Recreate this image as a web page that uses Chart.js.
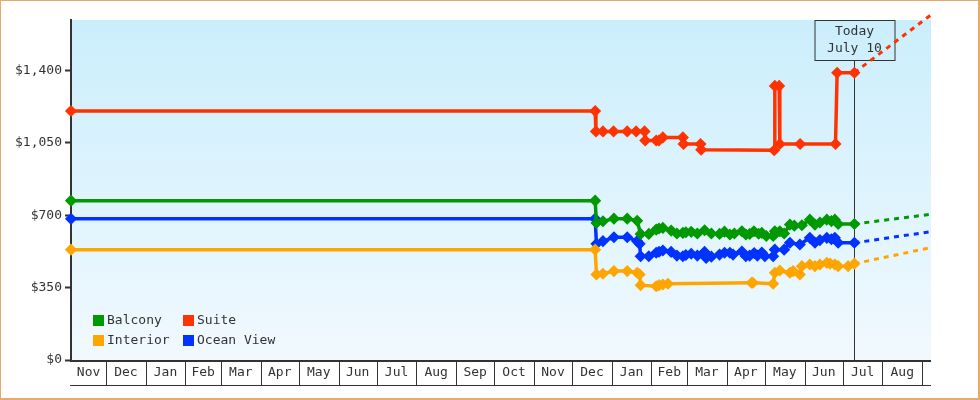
<!DOCTYPE html>
<html><head><meta charset="utf-8">
<script src="https://cdn.jsdelivr.net/npm/chart.js@4/dist/chart.umd.min.js"></script>
<style>html,body{margin:0;padding:0;background:#fff}</style>
</head><body>
<canvas id="c" width="980" height="400"></canvas>
<script>
// ---- data (x = days since Nov 1, 2021; y = price in $) ----
const monthNames = ['Jan','Feb','Mar','Apr','May','Jun','Jul','Aug','Sep','Oct','Nov','Dec'];
const yTickValues = [0, 350, 700, 1050, 1400];
const seriesNames = ['Balcony', 'Suite', 'Interior', 'Ocean View'];
const seriesColors = ['#009900', '#ff3300', '#ffa500', '#0033ff'];
const todayDay = 616;
const todayText = ['Today', 'July 10'];
const xMinDay = 2.5;
const projEndDay = 676;

const balconyDays   = [2.5, 413, 414, 419.1, 427.7, 438.1, 445.9, 448.6, 455, 460.8, 463, 466, 472.5, 477, 481.7, 484, 488.2, 493, 498.7, 504, 510.4, 514.3, 518.5, 522, 527.9, 531, 534, 537.3, 541, 543.5, 547, 552.4, 553.7, 557.6, 561, 565.5, 569, 574.9, 581.1, 585.1, 589, 594.4, 598, 600.7, 603.3, 616];
const balconyValues = [771, 771, 663, 671, 684, 684, 674, 610, 610, 631, 636, 639, 626, 612, 615, 618, 620, 612, 628, 612, 610, 621, 607, 612, 623, 607, 610, 623, 611, 615, 600, 600, 623, 623, 612, 655, 650, 652, 679, 655, 665, 679, 672, 679, 658, 658];

const suiteDays   = [2.5, 413, 413.6, 419.1, 427.4, 438.1, 445.1, 451.7, 452.2, 460.8, 462.9, 466, 481.7, 482.2, 495.5, 496, 553.2, 553.7, 557.1, 557.6, 573.5, 601.2, 602.5, 616];
const suiteValues = [1205, 1205, 1106, 1106, 1106, 1106, 1106, 1106, 1062, 1062, 1062, 1077, 1077, 1045, 1045, 1017, 1015, 1326, 1326, 1045, 1045, 1045, 1390, 1390];

const interiorDays   = [2.5, 413, 414, 419.1, 427.7, 438.1, 445.9, 447.8, 448.6, 460.8, 463, 466, 470, 535.5, 536.5, 552.4, 553.7, 557.6, 565.5, 568, 573.3, 574.9, 581.1, 585.1, 589, 594.4, 597, 600.7, 603.3, 611.1, 616];
const interiorValues = [534, 534, 414, 417, 430, 430, 422, 414, 362, 357, 362, 365, 369, 374, 374, 369, 422, 433, 422, 430, 414, 454, 462, 454, 462, 470, 466, 462, 454, 454, 466];

const oceanDays   = [2.5, 413, 414, 419.1, 427.7, 438.1, 445.9, 447.8, 448.6, 455, 460.8, 463, 466, 472.5, 477, 481.7, 484, 488.2, 493, 498.7, 499.9, 504, 510.4, 514.3, 518.5, 521, 527.9, 531, 534, 537.5, 540, 543.5, 545.9, 552.4, 553.7, 561, 565.5, 573.3, 581.1, 585.1, 589, 594.4, 598, 600.7, 603.3, 616];
const oceanValues = [683, 684, 562, 575, 594, 594, 575, 562, 502, 502, 519, 524, 530, 523, 505, 502, 508, 514, 505, 523, 494, 500, 510, 519, 519, 510, 525, 502, 505, 518, 505, 520, 502, 502, 534, 534, 567, 559, 591, 567, 580, 591, 584, 591, 567, 567];

// projected value at projEndDay for each series
const projEndValues = [705, 1670, 544, 621];

// ---- build ----
const FONT = '"DejaVu Sans Mono", monospace';
const TXT = '#333333';
const seriesDays = [balconyDays, suiteDays, interiorDays, oceanDays];
const seriesValues = [balconyValues, suiteValues, interiorValues, oceanValues];

const datasets = [];
seriesNames.forEach((name, i) => {
  datasets.push({
    label: name,
    data: seriesDays[i].map((d, k) => ({x: d, y: seriesValues[i][k]})),
    borderColor: seriesColors[i], backgroundColor: seriesColors[i],
    borderWidth: 3.5, tension: 0, clip: false,
    pointStyle: 'rectRot', pointRadius: 5, pointBorderWidth: 1.5,
    pointHoverRadius: 5, isMain: true
  });
});
seriesNames.forEach((name, i) => {
  const d = seriesDays[i], v = seriesValues[i];
  datasets.push({
    label: name + ' (projected)',
    data: [{x: d[d.length - 1], y: v[v.length - 1]}, {x: projEndDay, y: projEndValues[i]}],
    borderColor: seriesColors[i], borderWidth: 3, borderDash: [5, 5],
    pointRadius: 0, tension: 0, clip: false, isMain: false
  });
});

const dayMs = 864e5, epoch = Date.UTC(2021, 10, 1);
function monthStarts() {
  const out = [];
  for (let m = 10; m < 10 + 24; m++) {
    const y = 2021 + Math.floor(m / 12), mm = m % 12;
    out.push({day: (Date.UTC(y, mm, 1) - epoch) / dayMs, name: monthNames[mm]});
  }
  return out;
}

const decor = {
  id: 'decor',
  beforeDraw(chart) {
    const {ctx, chartArea: a} = chart;
    ctx.save();
    ctx.fillStyle = '#ffffff';
    ctx.fillRect(0, 0, chart.width, chart.height);
    const g = ctx.createLinearGradient(0, a.top, 0, a.bottom);
    g.addColorStop(0, '#cbeefc');
    g.addColorStop(1, '#f1f9fe');
    ctx.fillStyle = g;
    ctx.fillRect(a.left, a.top, a.right - a.left, a.bottom - a.top);
    ctx.restore();
  },
  beforeDatasetsDraw(chart) {
    const {ctx, chartArea: a, scales: {x}} = chart;
    const tx = Math.round(x.getPixelForValue(todayDay)) + 0.5;
    ctx.save();
    ctx.strokeStyle = TXT; ctx.lineWidth = 1;
    const bw = 80, bh = 40;
    ctx.strokeRect(Math.round(tx - bw / 2), a.top + 0.5, bw, bh);
    ctx.beginPath(); ctx.moveTo(tx, a.top + bh + 0.5); ctx.lineTo(tx, a.bottom); ctx.stroke();
    ctx.fillStyle = TXT; ctx.font = '13px ' + FONT;
    ctx.textAlign = 'center'; ctx.textBaseline = 'middle';
    ctx.fillText(todayText[0], tx, a.top + 12);
    ctx.fillText(todayText[1], tx, a.top + 29);
    ctx.restore();
  },
  afterDraw(chart) {
    const {ctx, chartArea: a, scales: {x}} = chart;
    ctx.save();
    // x axis band
    ctx.fillStyle = TXT;
    ctx.fillRect(a.left - 1, a.bottom, a.right - a.left + 1, 2);
    ctx.fillRect(a.left - 1, a.bottom + 25, a.right - a.left + 1, 1);
    const ms = monthStarts();
    ctx.font = '13px ' + FONT; ctx.textAlign = 'center'; ctx.textBaseline = 'middle';
    ctx.strokeStyle = TXT; ctx.lineWidth = 1;
    for (let i = 0; i < ms.length - 1; i++) {
      const s = Math.max(ms[i].day, x.min), e = Math.min(ms[i + 1].day, x.max);
      if (ms[i].day > x.min && ms[i].day < x.max) {
        const px = Math.round(x.getPixelForValue(ms[i].day)) + 0.5;
        ctx.beginPath(); ctx.moveTo(px, a.bottom + 2); ctx.lineTo(px, a.bottom + 25); ctx.stroke();
      }
      if (e > s) {
        const p1 = x.getPixelForValue(s), p2 = x.getPixelForValue(e);
        if (p2 - p1 > 24) ctx.fillText(ms[i].name, (p1 + p2) / 2, a.bottom + 13);
      }
    }
    // legend
    const main = chart.data.datasets.filter(d => d.isMain);
    main.forEach((d, i) => {
      const col = i % 2, row = Math.floor(i / 2);
      const lx = a.left + 22, ly = a.bottom - 45 + row * 20;
      const cx = lx + col * 90;
      ctx.fillStyle = d.borderColor;
      ctx.fillRect(cx, ly, 11, 11);
      ctx.fillStyle = TXT; ctx.textAlign = 'left';
      ctx.fillText(d.label, cx + 14, ly + 6);
    });
    // outer border
    ctx.strokeStyle = '#e8aa66'; ctx.lineWidth = 2;
    ctx.strokeRect(0, 0, 979, 399);
    ctx.restore();
  }
};

new Chart(document.getElementById('c'), {
  type: 'line',
  data: {datasets},
  options: {
    responsive: false, animation: false, devicePixelRatio: 1, events: [],
    layout: {padding: {top: 20, right: 49, bottom: 40, left: 0}},
    plugins: {legend: {display: false}, tooltip: {enabled: false}},
    scales: {
      x: {type: 'linear', min: xMinDay, max: projEndDay, display: false},
      y: {
        min: 0, max: 1645,
        afterFit: s => { s.width = 71; },
        afterBuildTicks: s => { s.ticks = yTickValues.map(v => ({value: v})); },
        grid: {drawOnChartArea: false, drawTicks: true, tickLength: 6, tickWidth: 2, tickColor: TXT},
        border: {display: true, width: 2, color: TXT},
        ticks: {color: TXT, font: {family: FONT, size: 13}, padding: 3,
          callback: v => '$' + Number(v).toLocaleString('en-US')}
      }
    }
  },
  plugins: [decor]
});
</script>
</body></html>
